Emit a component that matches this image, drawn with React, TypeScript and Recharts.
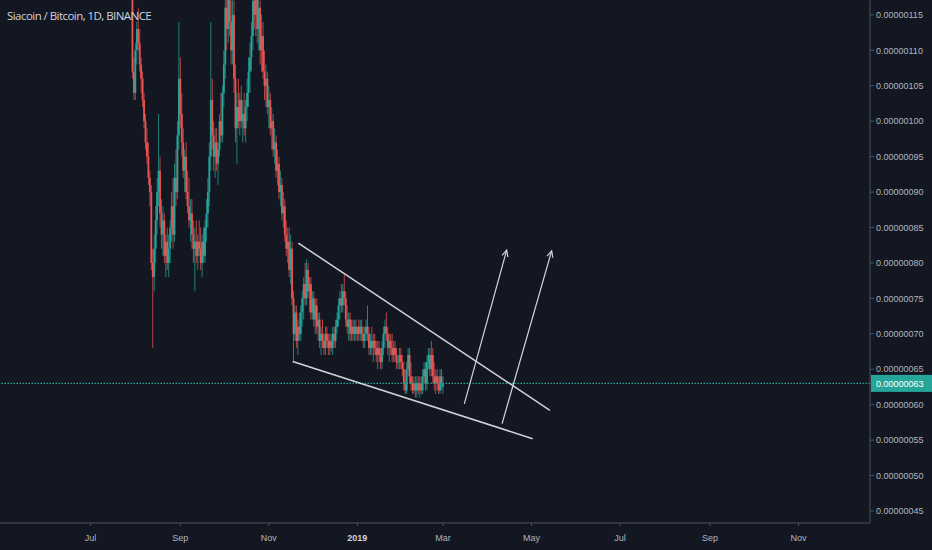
import { ComposedChart, Bar, XAxis, YAxis, ReferenceLine } from "recharts";

// SC/BTC daily candles, prices in satoshi (1e-8 BTC)
const firstCandle = "2018-07-30";
const axisOrigin = "2018-07-01";

// [open, high, low, close]
const ohlc: number[][] = [
  [121, 126, 106, 107], [107, 109, 103, 104], [104, 111, 103, 110], [110, 114, 108, 113],
  [113, 116, 110, 111], [111, 113, 107, 108], [108, 109, 104, 106], [106, 107, 102, 103],
  [103, 104, 99, 100], [100, 101, 96, 97], [97, 99, 94, 95], [95, 97, 91, 92],
  [92, 93, 88, 90], [90, 91, 79, 80], [80, 82, 68, 78],
  // late aug
  [78, 84, 76, 82], [82, 88, 80, 86], [86, 92, 84, 90], [90, 101, 88, 93],
  [93, 95, 85, 87], [87, 89, 82, 84], [84, 88, 81, 86], [86, 87, 80, 81],
  [81, 84, 78, 83], [83, 85, 79, 80], [80, 84, 78, 82], [82, 86, 80, 85],
  [85, 90, 83, 88], [88, 92, 82, 84], [84, 94, 83, 92], [92, 96, 88, 90],
  [90, 100, 89, 98], [98, 114, 96, 106], [106, 109, 99, 101],
  // september
  [101, 104, 95, 97], [97, 99, 92, 93], [93, 96, 90, 95], [95, 97, 89, 90],
  [90, 93, 87, 88], [88, 92, 85, 86], [86, 89, 83, 87], [87, 89, 82, 84],
  [84, 86, 80, 82], [82, 85, 76, 83], [83, 86, 80, 81], [81, 84, 79, 83],
  [83, 86, 81, 82], [82, 85, 79, 80], [80, 84, 78, 83], [83, 85, 80, 81],
  [81, 86, 80, 85], [85, 89, 83, 87], [87, 92, 85, 90], [90, 97, 88, 95],
  [95, 114, 93, 103], [103, 106, 96, 98],
  // late sep / oct
  [98, 100, 93, 95], [95, 99, 92, 97], [97, 99, 93, 94], [94, 97, 91, 96],
  [96, 101, 95, 100], [100, 104, 97, 98], [98, 105, 97, 104], [104, 110, 102, 108],
  [108, 119, 106, 116], [116, 121, 110, 113], [113, 120, 111, 118], [118, 122, 112, 114],
  [114, 117, 108, 110], [110, 118, 108, 115], [115, 117, 104, 106],
  [106, 108, 97, 99], [99, 104, 94, 102], [102, 106, 99, 100], [100, 104, 98, 103],
  [103, 105, 99, 100], [100, 103, 97, 101], [101, 104, 98, 99], [99, 103, 97, 102],
  [102, 106, 100, 104], [104, 109, 102, 107], [107, 111, 104, 109], [109, 114, 107, 112],
  [112, 119, 110, 117], [117, 122, 113, 115], [115, 121, 112, 119], [119, 120, 111, 113],
  [113, 118, 110, 116],
  // november slide
  [116, 117, 108, 110], [110, 115, 107, 112], [112, 114, 106, 107], [107, 110, 103, 105],
  [105, 108, 102, 106], [106, 107, 101, 102], [102, 105, 99, 103], [103, 104, 98, 99],
  [99, 102, 96, 100], [100, 101, 95, 96], [96, 99, 94, 97], [97, 98, 92, 93],
  [93, 96, 91, 94], [94, 95, 89, 90], [90, 93, 88, 91], [91, 92, 86, 87],
  [87, 90, 85, 88], [88, 89, 83, 84], [84, 86, 81, 82], [82, 85, 80, 83],
  [83, 85, 78, 79], [79, 84, 77, 82], [82, 83, 74, 75], [75, 76, 66, 70],
  // december
  [70, 74, 69, 73], [73, 74, 68, 69], [69, 72, 67, 71], [71, 73, 69, 70],
  [70, 74, 69, 73], [73, 76, 71, 75], [75, 78, 72, 77], [77, 80, 74, 75],
  [75, 80.5, 74, 79], [79, 80, 75, 76], [76, 78, 73, 77], [77, 78, 72, 73],
  [73, 76, 72, 75], [75, 76, 71, 72], [72, 75, 70, 74], [74, 75, 70, 71],
  [71, 73, 69, 72], [72, 73, 68, 69], [69, 71, 67, 70], [70, 72, 68, 69],
  [69, 70, 67, 68], [68, 71, 67, 70], [70, 71, 68, 69], [69, 70, 67, 68],
  [68, 70, 67, 69], [69, 70, 67.5, 68], [68, 71, 67, 70], [70, 71, 68, 69],
  [69, 72, 68, 71], [71, 73, 70, 72], [72, 75, 71, 74], [74, 76, 72, 75],
  [75, 77, 73, 74], [74, 77, 73, 76], [76, 78.5, 74, 75], [75, 76, 71, 72],
  [72, 74, 70, 71], [71, 73, 69, 72],
  // january
  [72, 73, 69, 70], [70, 72, 69, 71], [71, 72, 69, 70], [70, 72, 69, 71],
  [71, 72, 69, 70], [70, 71, 69, 71], [71, 72, 69, 70], [70, 72, 69, 71],
  [71, 72, 69, 70], [70, 71, 68, 69], [69, 71, 68, 70], [70, 72, 69, 71],
  [71, 74, 69, 70], [70, 71, 67, 68], [68, 70, 67, 69], [69, 71, 67, 68],
  [68, 70, 66, 69], [69, 70, 67, 68], [68, 69, 66, 67], [67, 69, 65, 68],
  [68, 69, 66, 67], [67, 68, 65, 66], [66, 69, 65, 68], [68, 71, 67, 70],
  [70, 72, 68, 71], [71, 73, 69, 70], [70, 71, 67, 68], [68, 70, 66, 69],
  [69, 70, 67, 68], [68, 70, 66, 67], [67, 69, 66, 68], [68, 69, 66, 67],
  // february
  [67, 68, 65, 66], [66, 67, 65, 66], [66, 68, 65, 67], [67, 68, 65, 66],
  [66, 67, 64, 65], [65, 66, 62, 63], [63, 65, 61.5, 62], [62, 66, 61.5, 65],
  [65, 68, 64, 67], [67, 68, 63, 64], [64, 66, 62, 63], [63, 64, 61.5, 62],
  [62, 64, 61.5, 63], [63, 64, 61, 62], [62, 64, 61, 63], [63, 64, 61.5, 62],
  [62, 64, 61, 63], [63, 64, 61.5, 62], [62, 65, 61.5, 64], [64, 66, 63, 65],
  [65, 66, 62, 63], [63, 67, 62, 66], [66, 68, 65, 67], [67, 68, 64, 65],
  [65, 69, 64, 67], [67, 68, 63, 64], [64, 66, 62, 63], [63, 65, 61.5, 64],
  [64, 65, 62, 63], [63, 64, 61.5, 62], [62, 65, 61.5, 64], [64, 65, 62, 63],
  [62.5, 64, 61.5, 63],
];

const lastPrice = 63;

// month ticks on the time axis
const tickDates = [
  "2018-07-01", "2018-09-01", "2018-11-01", "2019-01-01", "2019-03-01",
  "2019-05-01", "2019-07-01", "2019-09-01", "2019-11-01",
];
const tickLabels = ["Jul", "Sep", "Nov", "2019", "Mar", "May", "Jul", "Sep", "Nov"];
const priceTicks = [45, 50, 55, 60, 65, 70, 75, 80, 85, 90, 95, 100, 105, 110, 115];

// drawings, in [day since axisOrigin, price]
const wedgeTop = [[143.3, 82.8], [316.7, 59.2]];
const wedgeBottom = [[139.4, 66.1], [304.8, 55.2]];
const arrowA = [[257.7, 60.1], [286.9, 81.8]];
const arrowB = [[283.7, 57.3], [317.9, 81.7]];

const BG = "#131722";
const UP = "#26a69a";
const DOWN = "#ef5350";
const AXIS = "#50535e";
const TEXT = "#b2b5be";
const DRAW = "#d1d4dc";
const FONT = "'Liberation Sans', Arial, sans-serif";

const DAY = 86400000;
const dayOf = (s: string) => Math.round((Date.parse(s) - Date.parse(axisOrigin)) / DAY);
const start = dayOf(firstCandle);

const data = ohlc.map(([o, h, l, c], i) => ({ t: start + i, o, h, l, c, range: [l, h] }));
const tickDays = tickDates.map(dayOf);

function Candle(props: any) {
  let { x, y, width, height } = props;
  const p = props.payload;
  if (!p || height == null) return null;
  if (height < 0) {
    y += height;
    height = -height;
  }
  const span = p.h - p.l || 1;
  const py = (v: number) => y + ((p.h - v) / span) * height;
  const cx = x + width / 2;
  const col = p.c >= p.o ? UP : DOWN;
  const top = py(Math.max(p.o, p.c));
  const bot = py(Math.min(p.o, p.c));
  return (
    <g>
      <line x1={cx} x2={cx} y1={y} y2={y + height} stroke={col} strokeOpacity={0.75} strokeWidth={1} />
      <rect x={cx - 0.9} y={top} width={1.8} height={Math.max(bot - top, 1)} fill={col} />
    </g>
  );
}

function XTick({ x, y, payload }: any) {
  const label = tickLabels[tickDays.indexOf(payload.value)];
  const strong = label === "2019";
  return (
    <text x={x} y={y} dy="0.71em" textAnchor="middle" fontSize={9} fontFamily={FONT}
      fill={strong ? "#d1d4dc" : TEXT} fontWeight={strong ? "bold" : "normal"}>
      {label}
    </text>
  );
}

function ArrowLine(props: any) {
  const { x1, y1, x2, y2 } = props;
  const a = Math.atan2(y2 - y1, x2 - x1);
  const len = 7;
  const w = 0.45;
  return (
    <g>
      <line x1={x1} y1={y1} x2={x2} y2={y2} stroke={DRAW} strokeWidth={1.2} />
      <polyline
        points={`${x2 - len * Math.cos(a - w)},${y2 - len * Math.sin(a - w)} ${x2},${y2} ${x2 - len * Math.cos(a + w)},${y2 - len * Math.sin(a + w)}`}
        fill="none" stroke={DRAW} strokeWidth={1.2} />
    </g>
  );
}

function PriceTag({ viewBox }: any) {
  if (!viewBox) return null;
  const x = viewBox.x + viewBox.width + 1;
  const y = viewBox.y;
  return (
    <g>
      <rect x={x} y={y - 8.5} width={62} height={17} fill={UP} />
      <text x={x + 5} y={y} dy="0.355em" fontSize={9} fontFamily={FONT} fill="#ffffff">
        {"0." + String(lastPrice).padStart(8, "0")}
      </text>
    </g>
  );
}

const seg = (s: number[][]) => s.map(([x, y]) => ({ x, y }));

export default function App() {
  return (
    <div style={{ position: "absolute", left: 0, top: 0, width: 932, height: 550, background: BG, overflow: "hidden" }}>
      <ComposedChart width={932} height={550} data={data} margin={{ top: 0, right: 0, bottom: 0, left: 0 }}>
        <XAxis
          type="number"
          dataKey="t"
          domain={[-62.3, 537.3]}
          allowDataOverflow
          ticks={tickDays}
          height={27}
          tickSize={3}
          tickMargin={9}
          tick={<XTick />}
          axisLine={{ stroke: AXIS }}
          tickLine={{ stroke: AXIS }}
        />
        <YAxis
          orientation="right"
          type="number"
          domain={[43.3, 117.1]}
          allowDataOverflow
          ticks={priceTicks}
          width={62}
          tickSize={4}
          tickMargin={2}
          tickFormatter={(v: number) => "0." + String(v).padStart(8, "0")}
          tick={{ fill: TEXT, fontSize: 9, fontFamily: FONT }}
          axisLine={{ stroke: AXIS }}
          tickLine={{ stroke: AXIS }}
        />
        <Bar dataKey="range" barSize={1.4} shape={<Candle />} isAnimationActive={false} />
        <ReferenceLine y={lastPrice} stroke={UP} strokeWidth={1.3} strokeDasharray="1.5 1.5" label={<PriceTag />} />
        <ReferenceLine segment={seg(wedgeTop)} stroke={DRAW} strokeWidth={1.5} />
        <ReferenceLine segment={seg(wedgeBottom)} stroke={DRAW} strokeWidth={1.5} />
        <ReferenceLine segment={seg(arrowA)} shape={<ArrowLine />} />
        <ReferenceLine segment={seg(arrowB)} shape={<ArrowLine />} />
      </ComposedChart>
      <div style={{ position: "absolute", left: 7, top: 8, fontFamily: "'Open Sans', sans-serif", fontSize: 11.5, letterSpacing: "-0.55px", lineHeight: "16px", color: "#d1d4dc" }}>
        Siacoin / Bitcoin, 1D, BINANCE
      </div>
    </div>
  );
}
